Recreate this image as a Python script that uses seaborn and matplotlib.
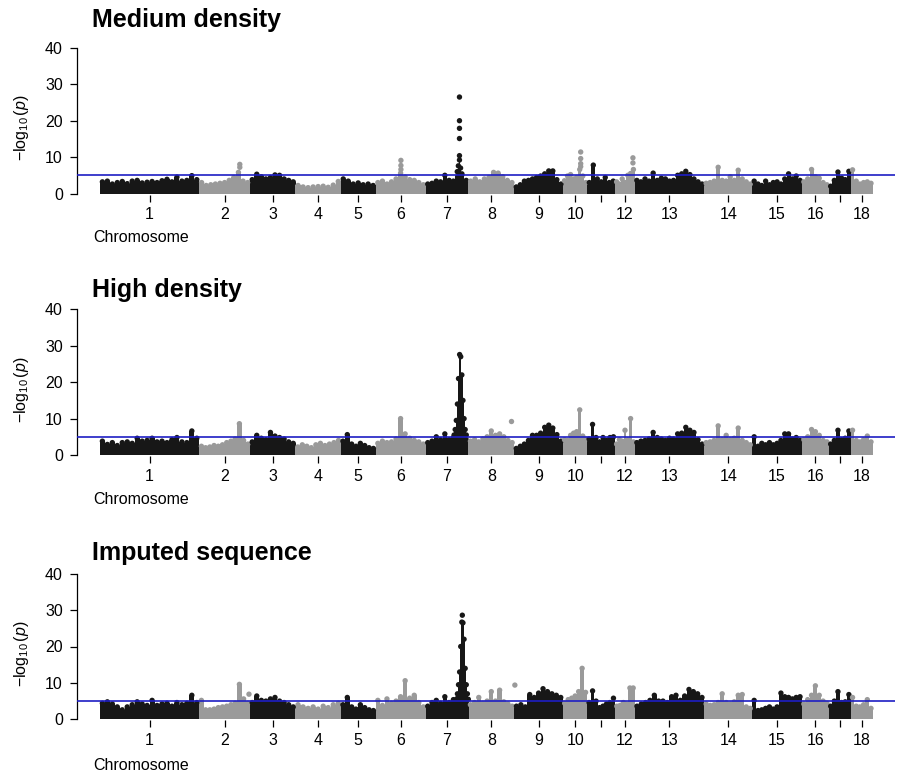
import numpy as np
import pandas as pd
import matplotlib
matplotlib.use("Agg")
import matplotlib.pyplot as plt
import seaborn as sns

# chromosome lengths (Mb) and axis labels
chrom_len = [314, 160, 144, 143, 110, 158, 135, 145, 154, 77, 88, 62, 219, 152, 157, 85, 69, 70]
tick_labels = ["1", "2", "3", "4", "5", "6", "7", "8", "9", "10", "", "12", "13", "14", "15", "16", "", "18"]
threshold = 5

# top of the -log10(p) cloud along each chromosome (evenly spaced windows)
medium_env = [
    [3.2, 3.4, 2.6, 3.0, 3.3, 2.7, 3.4, 3.6, 2.9, 3.1, 3.3, 3.0, 3.5, 3.9, 3.2, 4.5, 3.4, 3.6, 4.9, 3.8],
    [3.0, 2.2, 2.4, 2.6, 2.8, 3.0, 3.6, 4.4, 5.8, 3.4, 3.0],
    [3.8, 5.3, 4.6, 4.0, 4.4, 5.1, 5.0, 4.0, 3.6, 3.2],
    [2.2, 1.8, 1.6, 1.8, 1.9, 2.0, 1.7, 2.3, 3.3],
    [4.0, 3.4, 2.6, 2.9, 2.4, 2.6, 2.2],
    [3.0, 3.4, 2.6, 3.2, 4.0, 5.6, 4.5, 3.8, 3.6, 3.0, 2.4],
    [2.6, 2.8, 3.4, 3.2, 5.0, 3.6, 3.4, 4.6, 5.4, 3.6],
    [3.4, 4.0, 3.2, 4.0, 4.4, 5.8, 5.6, 4.6, 3.6, 3.0],
    [1.8, 2.4, 3.4, 3.6, 4.0, 4.4, 4.8, 5.4, 6.2, 6.2, 3.8, 2.6],
    [3.5, 4.8, 5.2, 4.0, 4.4, 6.6, 4.8, 3.0],
    [3.0, 7.8, 4.0, 3.2, 4.4, 3.0, 3.4],
    [3.2, 2.6, 4.0, 3.0, 5.0, 5.5, 6.6],
    [3.6, 3.2, 4.0, 3.4, 5.6, 3.6, 4.2, 4.0, 3.4, 3.6, 5.0, 5.4, 6.1, 5.2, 4.0, 3.2, 2.6],
    [2.8, 3.0, 3.4, 7.2, 3.6, 3.4, 4.6, 3.6, 6.4, 4.0, 3.2, 2.6],
    [3.4, 2.6, 2.2, 3.4, 2.4, 3.0, 3.2, 2.6, 4.0, 5.4, 4.0, 4.8, 3.6],
    [3.2, 4.0, 6.6, 4.6, 4.2, 3.0, 2.4],
    [2.0, 3.6, 5.9, 4.2, 3.8, 6.1],
    [6.5, 3.4, 2.6, 3.0, 3.2, 2.8],
]
high_env = [
    [3.8, 2.9, 3.4, 2.6, 3.4, 3.6, 3.2, 4.6, 3.8, 4.0, 4.6, 3.6, 3.8, 3.4, 4.2, 4.8, 3.6, 3.4, 6.6, 4.6],
    [2.4, 2.0, 2.2, 2.6, 2.4, 2.8, 3.4, 3.8, 4.4, 8.6, 4.0, 3.0],
    [3.6, 5.4, 4.6, 4.2, 6.2, 5.2, 4.8, 4.4, 3.6, 3.2],
    [2.2, 2.8, 2.4, 2.0, 2.8, 3.2, 2.6, 3.0, 3.4, 4.0],
    [3.8, 5.6, 3.0, 2.4, 3.2, 2.6, 2.0, 1.8],
    [3.2, 3.8, 3.4, 3.6, 4.4, 10.0, 5.8, 4.6, 4.0, 3.6, 3.0],
    [3.4, 3.8, 5.0, 4.2, 5.8, 4.2, 4.8, 6.0, 7.0, 4.2],
    [3.8, 4.2, 3.6, 4.4, 5.0, 6.6, 5.4, 5.8, 5.0, 4.0, 3.4],
    [1.8, 2.4, 3.0, 4.0, 5.4, 5.4, 6.0, 7.6, 8.2, 7.4, 5.6, 3.8],
    [4.2, 4.0, 5.4, 6.0, 6.4, 12.4, 5.2, 4.4],
    [4.4, 8.4, 4.8, 3.6, 4.8, 4.0, 4.8, 5.0],
    [3.0, 4.2, 3.8, 6.8, 4.2, 10.0, 3.6],
    [3.4, 3.8, 4.0, 4.4, 6.2, 4.8, 4.4, 4.0, 4.6, 4.4, 5.8, 6.0, 7.6, 6.8, 6.2, 4.2, 3.0],
    [3.4, 3.6, 4.0, 8.0, 4.2, 5.4, 4.2, 4.6, 7.4, 4.0, 3.4, 2.8],
    [5.0, 2.4, 3.2, 2.8, 3.4, 2.8, 3.2, 4.0, 5.8, 5.8, 4.4, 4.8, 4.0],
    [4.2, 5.0, 7.0, 6.4, 5.4, 4.0, 3.6],
    [3.0, 4.0, 6.8, 4.2, 4.6, 6.6],
    [6.8, 4.0, 3.6, 4.2, 5.2, 3.6],
]
imputed_env = [
    [4.4, 4.8, 4.2, 3.4, 2.6, 3.4, 4.0, 4.8, 4.2, 3.8, 5.2, 3.8, 4.2, 4.4, 3.6, 4.6, 4.0, 4.4, 6.6, 4.6],
    [5.2, 2.6, 2.6, 2.8, 3.2, 3.4, 3.6, 4.0, 4.4, 9.6, 5.6, 4.4],
    [4.6, 6.4, 5.2, 5.0, 5.6, 6.0, 5.0, 4.6, 4.0, 3.4],
    [4.0, 3.4, 3.0, 3.4, 2.8, 3.6, 3.2, 4.0, 4.4],
    [4.0, 6.0, 3.4, 2.8, 4.0, 3.2, 2.6, 2.4],
    [5.2, 3.8, 5.6, 4.4, 5.0, 6.2, 10.6, 5.8, 6.6, 4.6, 3.4],
    [3.6, 4.6, 5.2, 4.4, 6.2, 4.6, 5.4, 5.8, 7.0, 4.4],
    [4.0, 4.6, 6.0, 4.4, 5.0, 7.6, 5.0, 8.0, 4.8, 4.2, 3.6],
    [3.6, 4.0, 3.4, 6.8, 6.0, 7.2, 8.4, 7.6, 7.0, 6.6, 6.0],
    [4.4, 5.4, 5.8, 6.4, 7.6, 14.0, 7.4],
    [4.6, 7.8, 5.0, 3.2, 3.6, 4.2, 4.6, 5.8],
    [3.6, 3.8, 4.6, 4.2, 8.6, 8.6],
    [3.6, 4.2, 4.6, 5.2, 6.6, 5.0, 5.0, 4.6, 6.2, 6.6, 5.2, 6.4, 8.2, 7.6, 7.0, 6.0],
    [4.2, 3.8, 4.0, 4.6, 7.0, 4.6, 4.2, 4.8, 6.6, 6.8, 3.4, 3.0],
    [5.2, 2.4, 2.6, 3.0, 3.4, 2.8, 3.4, 7.2, 6.2, 6.0, 5.6, 6.0, 6.2],
    [4.2, 5.4, 6.6, 9.2, 6.6, 5.0, 4.4],
    [3.6, 5.0, 7.6, 4.6, 4.8, 6.8],
    [6.0, 3.6, 3.4, 4.0, 5.4, 3.0],
]

# dense peak columns (chromosome, position Mb, -log10 p)
medium_spike_chr = [7, 7, 7, 7, 7]
medium_spike_pos = [100, 103.5, 107, 110.5, 114]
medium_spike_val = [6.0, 7.6, 9.2, 7.0, 5.0]
high_spike_chr = [7] * 12
high_spike_pos = [90, 93.5, 97, 100.5, 104, 107.5, 111, 114.5, 118, 121.5, 125, 128.5]
high_spike_val = [5.5, 7, 9.5, 14, 21, 27.6, 27, 22, 15, 10, 7, 5.5]
imputed_spike_chr = [7] * 12
imputed_spike_pos = [97, 100.5, 104, 107.5, 111, 114.5, 118, 121.5, 125, 128.5, 132, 135]
imputed_spike_val = [5.5, 7, 9.5, 13, 20, 26.7, 26.5, 22, 14, 9.5, 7, 5.5]

# single SNPs standing apart from the cloud
medium_dot_chr = [7, 7, 7, 7, 7, 2, 2, 6, 6, 6, 10, 10, 10, 10, 12, 12]
medium_dot_pos = [107, 107, 107, 107, 107, 128, 128, 80, 80, 80, 56, 56, 56, 56, 56, 56]
medium_dot_val = [26.5, 20.0, 17.9, 15.1, 10.4, 8.0, 7.2, 9.1, 7.7, 6.6, 11.4, 9.6, 8.2, 7.4, 9.8, 8.4]
high_dot_chr = [8]
high_dot_pos = [135]
high_dot_val = [9.4]
imputed_dot_chr = [7, 2, 8]
imputed_dot_pos = [116, 157, 147]
imputed_dot_val = [28.6, 6.9, 9.4]

titles = ["Medium density", "High density", "Imputed sequence"]

black = "#171717"
grey = "#9a9a9a"
blue = "#1e1ec4"

sns.set_theme(style="ticks")
plt.rcParams["font.family"] = ["Liberation Sans", "DejaVu Sans"]
plt.rcParams["mathtext.fontset"] = "custom"
plt.rcParams["mathtext.rm"] = "Liberation Sans"
plt.rcParams["mathtext.it"] = "Liberation Sans:italic"
for key in ["text.color", "axes.labelcolor", "xtick.color", "ytick.color", "axes.edgecolor"]:
    plt.rcParams[key] = "black"

starts = np.concatenate([[0], np.cumsum(chrom_len)[:-1]])
mids = starts + np.array(chrom_len) / 2

W, H = 898, 775
fig = plt.figure(figsize=(W / 100, H / 100), dpi=100)

unit = 3.64
zero_px = [193.5, 455, 719.3]
title_px = [20, 290, 553]
chrom_lab_px = [237, 500, 766]
panels = [
    (medium_env, medium_spike_chr, medium_spike_pos, medium_spike_val, medium_dot_chr, medium_dot_pos, medium_dot_val),
    (high_env, high_spike_chr, high_spike_pos, high_spike_val, high_dot_chr, high_dot_pos, high_dot_val),
    (imputed_env, imputed_spike_chr, imputed_spike_pos, imputed_spike_val, imputed_dot_chr, imputed_dot_pos, imputed_dot_val),
]
pal = {"dark": black, "light": grey}

for k, (env, sc, sp, sv, dc, dp, dv) in enumerate(panels):
    ylo, yhi = -0.3, 41.6
    bottom_px = zero_px[k] - ylo * unit
    height_px = (yhi - ylo) * unit
    ax = fig.add_axes([76.7 / W, 1 - bottom_px / H, 818.3 / W, height_px / H])

    rows = []
    for i, vals in enumerate(env):
        step = chrom_len[i] / len(vals)
        for j, v in enumerate(vals):
            rows.append((i, starts[i] + (j + 0.5) * step, v, step * 1.03))
    for c, p, v in zip(sc, sp, sv):
        rows.append((c - 1, starts[c - 1] + p, v, 4.6))
    df = pd.DataFrame(rows, columns=["chr", "x", "logp", "w"])
    df["shade"] = np.where(df["chr"] % 2 == 0, "dark", "light")
    cols = np.where(df["shade"] == "dark", black, grey)

    ax.bar(df["x"], df["logp"], width=df["w"], color=cols, linewidth=0, zorder=1)
    sns.scatterplot(data=df, x="x", y="logp", hue="shade", palette=pal,
                    s=15, linewidth=0, legend=False, ax=ax, zorder=2)

    dots = pd.DataFrame({"x": [starts[c - 1] + p for c, p in zip(dc, dp)], "logp": dv,
                         "shade": ["dark" if (c - 1) % 2 == 0 else "light" for c in dc]})
    sns.scatterplot(data=dots, x="x", y="logp", hue="shade", palette=pal,
                    s=15, linewidth=0, legend=False, ax=ax, zorder=2)

    ax.axhline(threshold, color=blue, lw=1.2, zorder=3)

    ax.set_xlim(-73.3, 2512)
    ax.set_ylim(ylo, yhi)
    ax.set_yticks([0, 10, 20, 30, 40])
    ax.set_xticks(mids)
    ax.set_xticklabels(tick_labels)
    ax.tick_params(axis="both", labelsize=11.5, length=5, width=0.9, color="black", labelcolor="black")
    ax.tick_params(axis="x", pad=4)
    ax.tick_params(axis="y", pad=5)
    for s in ["top", "right", "bottom"]:
        ax.spines[s].set_visible(False)
    ax.spines["left"].set_bounds(0, 40)
    ax.spines["left"].set_linewidth(0.9)
    ax.set_xlabel("")
    ax.set_ylabel(r"$-\log_{10}(p)$", fontsize=11.5, color="black")
    ax.yaxis.set_label_coords(-0.056, (18 - ylo) / (yhi - ylo))
    ax.set_facecolor("white")

    fig.text(92 / W, 1 - title_px[k] / H, titles[k], fontsize=18, fontweight="bold", va="center", ha="left", color="black")
    fig.text(93 / W, 1 - chrom_lab_px[k] / H, "Chromosome", fontsize=11.5, va="center", ha="left", color="black")

fig.savefig("out.png", dpi=100, facecolor="white")
